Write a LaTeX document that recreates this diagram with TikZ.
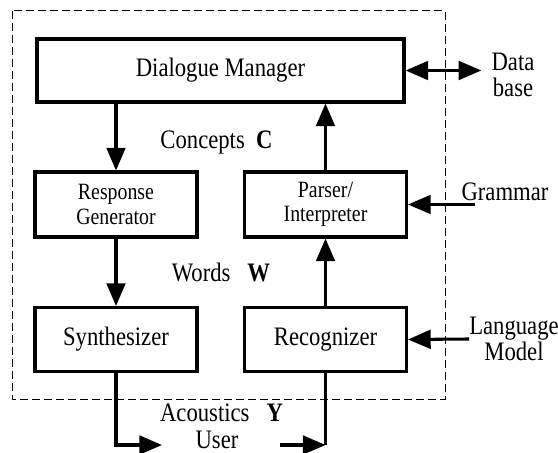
\documentclass[tikz,border=0pt]{standalone}
\usepackage{fontspec}
\setmainfont{Liberation Serif}[FakeStretch=0.85]
\usetikzlibrary{arrows.meta}

\begin{document}
\begin{tikzpicture}[x=0.75pt, y=-0.75pt, >={Triangle[length=17pt, width=14pt]},
        big/.style={font=\fontsize{20pt}{19.75pt}\selectfont},
        small/.style={font=\fontsize{17.5pt}{18.4pt}\selectfont},
        box/.style={draw, line width=2.3pt, minimum width=121.5pt, minimum height=48pt, align=center, inner sep=0pt, big},
        lbl/.style={align=center, inner sep=0pt, big},
        line/.style={line width=2.3pt},
        arr/.style={line, ->}]
    \useasboundingbox (0, 0) rectangle (558, 453);
    \draw [dash pattern=on 6pt off 3pt, line width=0.75pt] (12, 11) rectangle (445, 399);

    % boxes
    \node [box, minimum width=275.25pt, minimum height=47.25pt] (dm) at (220.5, 70.5) {Dialogue Manager};
    \node [box, small, minimum height=48.75pt] (rg) at (116, 204.5) {Response\\Generator};
    \node [box, small, minimum height=48.75pt] (pi) at (325.5, 204.5) {Parser/\\Interpreter};
    \node [box] (syn) at (116, 339.5) {Synthesizer};
    \node [box] (rec) at (325.5, 339.5) {Recognizer};

    % outside labels
    \node [lbl] (db) at (513, 75) {Data\\base};
    \node [lbl] (gram) at (505, 192) {Grammar};
    \node [lbl] (lm) at (514, 339) {Language\\Model};
    \node [lbl] (user) at (217, 440) {User};
    \node [lbl] (conc) at (216.5, 143) {Concepts~~\textbf{C}};
    \node [lbl] (words) at (221, 272) {Words~~~\textbf{W}};
    \node [lbl] (acou) at (221.5, 413) {Acoustics~~~\textbf{Y}};

    \coordinate (gramin) at (475, 204.5);
    \coordinate (synout) at (162, 445);
    \coordinate (recin) at (280, 445);

    % connectors
    \draw [line, <->] (dm.east) -- ([xshift=-7.5pt]db.west |- dm.east);
    \draw [arr] (dm.south -| rg.north) -- (rg.north);
    \draw [arr] (pi.north) -- (pi.north |- dm.south);
    \draw [arr] (rg.south) -- (syn.north);
    \draw [arr] (rec.north) -- (pi.south);
    \draw [arr] (gramin) -- (pi.east);
    \draw [arr] (lm.west) -- (rec.east);
    \draw [arr] (syn.south) |- (synout);
    \draw [arr] (recin) -- (recin -| rec.south);
    \draw [line] (rec.south) -- (rec.south |- recin);
\end{tikzpicture}
\end{document}
